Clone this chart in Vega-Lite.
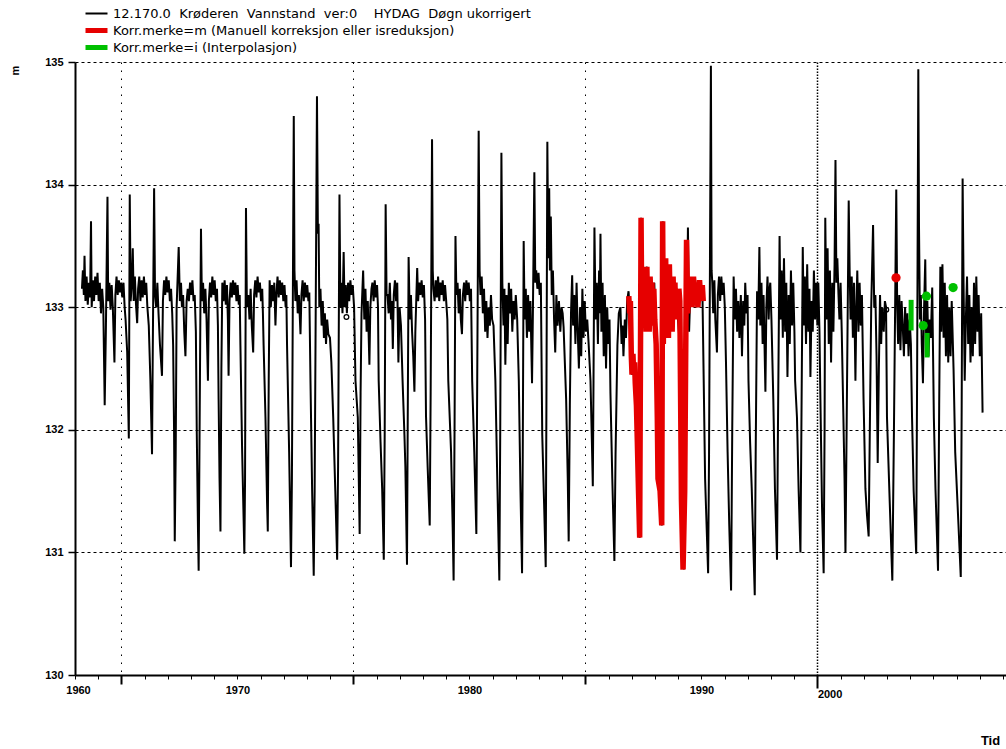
{
  "$schema": "https://vega.github.io/schema/vega-lite/v6.json",
  "width": 931,
  "height": 613,
  "autosize": {"type": "none"},
  "padding": {"left": 75, "top": 62, "right": 0, "bottom": 74},
  "background": "white",
  "config": {
    "view": {"stroke": null},
    "font": "Liberation Sans",
    "axis": {"domainColor": "#000", "tickColor": "#000", "labelColor": "#000", "titleColor": "#000", "gridColor": "#000"}
  },
  "datasets": {
    "niva": [
      {"t":1968.30,"v":133.15},{"t":1968.34,"v":133.30},{"t":1968.38,"v":133.10},{"t":1968.41,"v":133.42},{"t":1968.45,"v":133.05},{"t":1968.50,"v":133.25},{"t":1968.55,"v":133.02},{"t":1968.60,"v":133.20},{"t":1968.65,"v":133.08},{"t":1968.69,"v":133.70},{"t":1968.72,"v":133.00},{"t":1968.77,"v":133.22},{"t":1968.82,"v":133.05},{"t":1968.87,"v":133.25},{"t":1968.92,"v":133.10},{"t":1968.97,"v":133.28},
      {"t":1969.02,"v":133.05},{"t":1969.07,"v":133.20},{"t":1969.12,"v":132.95},{"t":1969.17,"v":133.15},{"t":1969.22,"v":133.00},{"t":1969.25,"v":132.60},{"t":1969.28,"v":132.20},{"t":1969.33,"v":132.80},{"t":1969.40,"v":133.90},{"t":1969.43,"v":133.05},{"t":1969.48,"v":133.20},{"t":1969.53,"v":132.98},{"t":1969.58,"v":133.18},{"t":1969.63,"v":133.00},{"t":1969.70,"v":132.55},{"t":1969.74,"v":133.10},{"t":1969.79,"v":133.25},{"t":1969.84,"v":133.10},{"t":1969.89,"v":133.22},{"t":1969.94,"v":133.12},{"t":1969.99,"v":133.20},
      {"t":1970.04,"v":133.08},{"t":1970.09,"v":133.20},{"t":1970.14,"v":133.00},{"t":1970.18,"v":132.90},{"t":1970.25,"v":132.63},{"t":1970.32,"v":131.93},{"t":1970.36,"v":133.92},{"t":1970.40,"v":133.05},{"t":1970.45,"v":133.20},{"t":1970.49,"v":133.48},{"t":1970.53,"v":133.05},{"t":1970.58,"v":133.25},{"t":1970.63,"v":133.02},{"t":1970.68,"v":132.87},{"t":1970.72,"v":133.15},{"t":1970.77,"v":133.25},{"t":1970.82,"v":133.05},{"t":1970.87,"v":133.22},{"t":1970.92,"v":133.08},{"t":1970.97,"v":133.25},
      {"t":1971.02,"v":133.10},{"t":1971.07,"v":133.20},{"t":1971.12,"v":133.00},{"t":1971.18,"v":132.85},{"t":1971.25,"v":132.40},{"t":1971.32,"v":131.80},{"t":1971.35,"v":132.60},{"t":1971.41,"v":133.97},{"t":1971.45,"v":133.10},{"t":1971.50,"v":133.00},{"t":1971.55,"v":133.20},{"t":1971.60,"v":132.95},{"t":1971.66,"v":132.70},{"t":1971.75,"v":132.44},{"t":1971.79,"v":133.05},{"t":1971.84,"v":133.22},{"t":1971.89,"v":133.10},{"t":1971.94,"v":133.25},{"t":1971.99,"v":133.12},
      {"t":1972.04,"v":133.22},{"t":1972.09,"v":133.05},{"t":1972.14,"v":133.15},{"t":1972.19,"v":132.95},{"t":1972.23,"v":132.69},{"t":1972.27,"v":132.00},{"t":1972.30,"v":131.09},{"t":1972.34,"v":131.80},{"t":1972.38,"v":133.00},{"t":1972.47,"v":133.49},{"t":1972.52,"v":133.05},{"t":1972.57,"v":133.20},{"t":1972.61,"v":133.00},{"t":1972.66,"v":133.10},{"t":1972.71,"v":132.80},{"t":1972.76,"v":132.60},{"t":1972.81,"v":133.05},{"t":1972.86,"v":133.15},{"t":1972.91,"v":133.05},{"t":1972.96,"v":133.20},
      {"t":1973.01,"v":133.10},{"t":1973.06,"v":133.22},{"t":1973.11,"v":133.05},{"t":1973.16,"v":133.10},{"t":1973.21,"v":132.80},{"t":1973.25,"v":131.96},{"t":1973.30,"v":131.20},{"t":1973.33,"v":130.85},{"t":1973.37,"v":132.00},{"t":1973.43,"v":133.64},{"t":1973.47,"v":133.05},{"t":1973.52,"v":133.20},{"t":1973.57,"v":132.95},{"t":1973.62,"v":133.15},{"t":1973.67,"v":132.90},{"t":1973.73,"v":132.40},{"t":1973.77,"v":133.05},{"t":1973.82,"v":133.20},{"t":1973.87,"v":133.08},{"t":1973.92,"v":133.25},{"t":1973.97,"v":133.10},
      {"t":1974.02,"v":133.22},{"t":1974.07,"v":133.05},{"t":1974.12,"v":133.15},{"t":1974.16,"v":132.85},{"t":1974.19,"v":132.25},{"t":1974.23,"v":131.60},{"t":1974.27,"v":131.17},{"t":1974.31,"v":132.50},{"t":1974.35,"v":133.20},{"t":1974.40,"v":133.05},{"t":1974.45,"v":133.22},{"t":1974.50,"v":133.02},{"t":1974.55,"v":133.18},{"t":1974.59,"v":132.90},{"t":1974.62,"v":132.44},{"t":1974.66,"v":133.05},{"t":1974.71,"v":133.20},{"t":1974.76,"v":133.08},{"t":1974.81,"v":133.22},{"t":1974.86,"v":133.10},{"t":1974.91,"v":133.20},{"t":1974.96,"v":133.05},
      {"t":1975.01,"v":133.18},{"t":1975.06,"v":133.02},{"t":1975.10,"v":133.10},{"t":1975.13,"v":132.69},{"t":1975.20,"v":131.87},{"t":1975.30,"v":130.99},{"t":1975.33,"v":131.60},{"t":1975.37,"v":133.81},{"t":1975.41,"v":133.00},{"t":1975.47,"v":133.10},{"t":1975.52,"v":132.90},{"t":1975.57,"v":133.15},{"t":1975.62,"v":132.85},{"t":1975.68,"v":132.63},{"t":1975.72,"v":133.10},{"t":1975.77,"v":133.22},{"t":1975.82,"v":133.08},{"t":1975.87,"v":133.25},{"t":1975.92,"v":133.12},{"t":1975.97,"v":133.20},
      {"t":1976.02,"v":133.05},{"t":1976.07,"v":133.15},{"t":1976.10,"v":132.95},{"t":1976.13,"v":132.69},{"t":1976.21,"v":132.10},{"t":1976.28,"v":131.40},{"t":1976.31,"v":131.17},{"t":1976.35,"v":132.40},{"t":1976.39,"v":133.22},{"t":1976.44,"v":133.00},{"t":1976.49,"v":133.18},{"t":1976.54,"v":133.05},{"t":1976.59,"v":133.20},{"t":1976.64,"v":132.85},{"t":1976.68,"v":133.10},{"t":1976.73,"v":133.25},{"t":1976.78,"v":133.08},{"t":1976.83,"v":133.22},{"t":1976.88,"v":133.10},{"t":1976.93,"v":133.20},{"t":1976.98,"v":133.05},
      {"t":1977.03,"v":133.18},{"t":1977.08,"v":133.00},{"t":1977.11,"v":133.10},{"t":1977.14,"v":132.69},{"t":1977.23,"v":131.82},{"t":1977.31,"v":130.88},{"t":1977.35,"v":131.60},{"t":1977.43,"v":134.56},{"t":1977.46,"v":133.30},{"t":1977.50,"v":133.05},{"t":1977.55,"v":133.22},{"t":1977.60,"v":132.95},{"t":1977.65,"v":133.10},{"t":1977.72,"v":132.78},{"t":1977.76,"v":133.10},{"t":1977.81,"v":133.22},{"t":1977.86,"v":133.05},{"t":1977.91,"v":133.20},{"t":1977.96,"v":133.08},
      {"t":1978.01,"v":133.18},{"t":1978.06,"v":133.05},{"t":1978.10,"v":133.12},{"t":1978.15,"v":132.40},{"t":1978.22,"v":131.52},{"t":1978.29,"v":130.81},{"t":1978.33,"v":131.50},{"t":1978.43,"v":134.72},{"t":1978.47,"v":133.60},{"t":1978.50,"v":133.68},{"t":1978.53,"v":133.00},{"t":1978.58,"v":133.15},{"t":1978.63,"v":132.85},{"t":1978.68,"v":133.05},{"t":1978.73,"v":132.75},{"t":1978.77,"v":132.95},{"t":1978.82,"v":132.70},{"t":1978.87,"v":132.90},{"t":1978.92,"v":132.78},{"t":1978.99,"v":132.75},
      {"t":1979.05,"v":132.55},{"t":1979.13,"v":132.10},{"t":1979.22,"v":131.50},{"t":1979.30,"v":130.94},{"t":1979.34,"v":131.70},{"t":1979.40,"v":133.92},{"t":1979.44,"v":133.00},{"t":1979.48,"v":133.20},{"t":1979.53,"v":132.95},{"t":1979.58,"v":133.45},{"t":1979.62,"v":133.00},{"t":1979.67,"v":133.18},{"t":1979.72,"v":132.95},{"t":1979.77,"v":133.20},{"t":1979.82,"v":133.05},{"t":1979.87,"v":133.22},{"t":1979.92,"v":133.10},{"t":1979.97,"v":133.18},
      {"t":1980.03,"v":133.00},{"t":1980.09,"v":132.40},{"t":1980.19,"v":132.10},{"t":1980.27,"v":131.15},{"t":1980.31,"v":132.30},{"t":1980.35,"v":132.95},{"t":1980.42,"v":133.30},{"t":1980.47,"v":132.90},{"t":1980.52,"v":133.15},{"t":1980.57,"v":132.80},{"t":1980.62,"v":133.05},{"t":1980.69,"v":132.53},{"t":1980.73,"v":133.00},{"t":1980.78,"v":133.15},{"t":1980.82,"v":133.20},{"t":1980.87,"v":133.05},{"t":1980.92,"v":133.22},{"t":1980.97,"v":133.08},
      {"t":1981.02,"v":133.18},{"t":1981.06,"v":133.00},{"t":1981.09,"v":132.40},{"t":1981.17,"v":131.90},{"t":1981.24,"v":131.52},{"t":1981.31,"v":130.94},{"t":1981.35,"v":132.00},{"t":1981.39,"v":133.84},{"t":1981.43,"v":133.10},{"t":1981.47,"v":133.10},{"t":1981.52,"v":132.95},{"t":1981.57,"v":133.20},{"t":1981.62,"v":132.90},{"t":1981.66,"v":133.05},{"t":1981.70,"v":132.66},{"t":1981.74,"v":133.10},{"t":1981.79,"v":133.22},{"t":1981.84,"v":133.05},{"t":1981.89,"v":133.20},{"t":1981.94,"v":132.55},{"t":1981.99,"v":133.00},
      {"t":1982.05,"v":132.85},{"t":1982.12,"v":132.40},{"t":1982.20,"v":131.96},{"t":1982.24,"v":131.70},{"t":1982.31,"v":130.90},{"t":1982.34,"v":132.00},{"t":1982.38,"v":133.41},{"t":1982.43,"v":132.90},{"t":1982.48,"v":133.10},{"t":1982.53,"v":132.80},{"t":1982.58,"v":132.60},{"t":1982.63,"v":132.31},{"t":1982.67,"v":132.80},{"t":1982.75,"v":133.32},{"t":1982.79,"v":133.05},{"t":1982.84,"v":133.20},{"t":1982.89,"v":133.10},{"t":1982.94,"v":133.22},{"t":1982.99,"v":133.08},
      {"t":1983.04,"v":133.18},{"t":1983.09,"v":132.90},{"t":1983.13,"v":132.11},{"t":1983.20,"v":131.70},{"t":1983.29,"v":131.22},{"t":1983.33,"v":132.30},{"t":1983.39,"v":134.37},{"t":1983.42,"v":133.30},{"t":1983.45,"v":133.15},{"t":1983.50,"v":133.05},{"t":1983.55,"v":133.22},{"t":1983.60,"v":133.08},{"t":1983.65,"v":133.25},{"t":1983.70,"v":133.05},{"t":1983.75,"v":133.20},{"t":1983.80,"v":133.10},{"t":1983.85,"v":133.22},{"t":1983.90,"v":133.05},{"t":1983.95,"v":133.18},
      {"t":1984.00,"v":133.05},{"t":1984.05,"v":132.90},{"t":1984.09,"v":132.40},{"t":1984.21,"v":131.82},{"t":1984.28,"v":131.20},{"t":1984.32,"v":130.77},{"t":1984.36,"v":132.00},{"t":1984.40,"v":133.58},{"t":1984.44,"v":133.10},{"t":1984.49,"v":133.20},{"t":1984.54,"v":132.95},{"t":1984.59,"v":133.15},{"t":1984.63,"v":132.90},{"t":1984.68,"v":132.78},{"t":1984.72,"v":133.10},{"t":1984.77,"v":133.20},{"t":1984.82,"v":133.05},{"t":1984.87,"v":133.22},{"t":1984.92,"v":133.10},{"t":1984.97,"v":133.20},
      {"t":1985.02,"v":133.05},{"t":1985.07,"v":133.15},{"t":1985.12,"v":132.40},{"t":1985.21,"v":131.82},{"t":1985.30,"v":131.15},{"t":1985.34,"v":132.50},{"t":1985.40,"v":134.44},{"t":1985.44,"v":133.30},{"t":1985.48,"v":133.10},{"t":1985.53,"v":133.25},{"t":1985.58,"v":132.95},{"t":1985.63,"v":133.15},{"t":1985.68,"v":132.80},{"t":1985.73,"v":133.05},{"t":1985.78,"v":132.75},{"t":1985.83,"v":133.00},{"t":1985.88,"v":132.85},{"t":1985.93,"v":133.10},{"t":1985.98,"v":132.90},
      {"t":1986.04,"v":132.85},{"t":1986.12,"v":132.40},{"t":1986.21,"v":131.52},{"t":1986.29,"v":130.77},{"t":1986.33,"v":132.00},{"t":1986.38,"v":134.26},{"t":1986.42,"v":133.20},{"t":1986.47,"v":132.85},{"t":1986.51,"v":133.15},{"t":1986.55,"v":132.53},{"t":1986.60,"v":133.10},{"t":1986.65,"v":132.70},{"t":1986.70,"v":133.20},{"t":1986.75,"v":132.95},{"t":1986.80,"v":133.15},{"t":1986.85,"v":132.80},{"t":1986.90,"v":133.05},{"t":1986.95,"v":132.90},
      {"t":1987.00,"v":133.10},{"t":1987.06,"v":132.90},{"t":1987.13,"v":132.40},{"t":1987.20,"v":131.52},{"t":1987.27,"v":130.83},{"t":1987.30,"v":131.80},{"t":1987.34,"v":133.54},{"t":1987.38,"v":132.90},{"t":1987.43,"v":133.15},{"t":1987.48,"v":132.75},{"t":1987.53,"v":133.10},{"t":1987.58,"v":132.80},{"t":1987.63,"v":133.05},{"t":1987.70,"v":132.38},{"t":1987.74,"v":133.00},{"t":1987.80,"v":134.10},{"t":1987.84,"v":133.20},{"t":1987.88,"v":133.30},{"t":1987.93,"v":133.15},{"t":1987.98,"v":133.28},
      {"t":1988.03,"v":133.10},{"t":1988.08,"v":133.20},{"t":1988.14,"v":131.96},{"t":1988.22,"v":131.40},{"t":1988.29,"v":130.88},{"t":1988.32,"v":132.20},{"t":1988.36,"v":134.35},{"t":1988.40,"v":133.40},{"t":1988.44,"v":133.97},{"t":1988.47,"v":133.30},{"t":1988.51,"v":133.74},{"t":1988.55,"v":133.10},{"t":1988.60,"v":133.30},{"t":1988.65,"v":132.90},{"t":1988.70,"v":132.63},{"t":1988.75,"v":133.10},{"t":1988.80,"v":132.85},{"t":1988.86,"v":133.05},{"t":1988.92,"v":132.80},{"t":1988.97,"v":133.00},
      {"t":1989.02,"v":132.95},{"t":1989.06,"v":132.84},{"t":1989.17,"v":132.25},{"t":1989.24,"v":131.60},{"t":1989.28,"v":131.09},{"t":1989.33,"v":132.20},{"t":1989.38,"v":132.95},{"t":1989.43,"v":133.26},{"t":1989.47,"v":132.85},{"t":1989.52,"v":133.10},{"t":1989.57,"v":132.70},{"t":1989.62,"v":133.20},{"t":1989.67,"v":132.80},{"t":1989.72,"v":132.50},{"t":1989.77,"v":133.00},{"t":1989.82,"v":132.60},{"t":1989.87,"v":133.15},{"t":1989.92,"v":132.75},{"t":1989.97,"v":133.05},
      {"t":1990.02,"v":132.80},{"t":1990.08,"v":132.90},{"t":1990.14,"v":132.70},{"t":1990.22,"v":132.40},{"t":1990.28,"v":131.90},{"t":1990.32,"v":131.54},{"t":1990.35,"v":132.40},{"t":1990.39,"v":133.65},{"t":1990.44,"v":132.90},{"t":1990.49,"v":133.20},{"t":1990.54,"v":132.70},{"t":1990.59,"v":133.30},{"t":1990.62,"v":132.95},{"t":1990.65,"v":133.60},{"t":1990.69,"v":132.80},{"t":1990.74,"v":133.20},{"t":1990.79,"v":132.60},{"t":1990.84,"v":133.10},{"t":1990.89,"v":132.50},{"t":1990.94,"v":133.00},{"t":1990.99,"v":132.70},
      {"t":1991.04,"v":132.90},{"t":1991.08,"v":132.30},{"t":1991.16,"v":131.60},{"t":1991.25,"v":130.93},{"t":1991.30,"v":131.80},{"t":1991.38,"v":132.69},{"t":1991.44,"v":132.95},{"t":1991.51,"v":133.00},{"t":1991.56,"v":132.70},{"t":1991.60,"v":132.85},{"t":1991.64,"v":132.60},{"t":1991.70,"v":132.90},{"t":1991.75,"v":132.75},{"t":1991.80,"v":133.05},{"t":1991.86,"v":133.13},
      {"t":1991.90,"v":133.00},{"t":1991.95,"v":132.85},{"t":1992.01,"v":132.45},{"t":1992.08,"v":132.50},{"t":1992.15,"v":132.38},{"t":1992.24,"v":131.90},{"t":1992.34,"v":131.12},{"t":1992.40,"v":133.73},{"t":1992.45,"v":132.95},{"t":1992.54,"v":133.25},{"t":1992.65,"v":133.33},{"t":1992.71,"v":132.98},{"t":1992.80,"v":133.20},{"t":1992.88,"v":132.90},{"t":1992.97,"v":133.20},
      {"t":1993.05,"v":132.70},{"t":1993.13,"v":131.60},{"t":1993.22,"v":131.50},{"t":1993.29,"v":131.22},{"t":1993.33,"v":133.70},{"t":1993.39,"v":132.75},{"t":1993.47,"v":133.35},{"t":1993.56,"v":132.80},{"t":1993.65,"v":133.30},{"t":1993.73,"v":132.85},{"t":1993.82,"v":133.20},{"t":1993.90,"v":133.10},{"t":1993.99,"v":132.90},
      {"t":1994.07,"v":132.70},{"t":1994.14,"v":132.30},{"t":1994.24,"v":130.86},{"t":1994.30,"v":131.50},{"t":1994.42,"v":133.65},{"t":1994.47,"v":132.80},{"t":1994.52,"v":133.10},{"t":1994.59,"v":133.05},{"t":1994.72,"v":133.20},{"t":1994.85,"v":133.00},{"t":1994.98,"v":133.18},
      {"t":1995.05,"v":133.05},{"t":1995.10,"v":132.40},{"t":1995.16,"v":131.60},{"t":1995.29,"v":130.83},{"t":1995.33,"v":131.80},{"t":1995.41,"v":134.97},{"t":1995.44,"v":133.30},{"t":1995.47,"v":133.20},{"t":1995.51,"v":132.95},{"t":1995.56,"v":133.22},{"t":1995.60,"v":132.90},{"t":1995.67,"v":132.63},{"t":1995.71,"v":133.10},{"t":1995.76,"v":133.25},{"t":1995.81,"v":133.05},{"t":1995.86,"v":133.25},{"t":1995.91,"v":133.10},{"t":1995.96,"v":133.20},
      {"t":1996.01,"v":133.00},{"t":1996.06,"v":132.55},{"t":1996.13,"v":131.82},{"t":1996.20,"v":131.23},{"t":1996.28,"v":130.69},{"t":1996.33,"v":132.00},{"t":1996.39,"v":133.25},{"t":1996.44,"v":132.90},{"t":1996.49,"v":133.15},{"t":1996.54,"v":132.80},{"t":1996.59,"v":133.05},{"t":1996.64,"v":132.75},{"t":1996.70,"v":133.10},{"t":1996.75,"v":132.60},{"t":1996.80,"v":133.05},{"t":1996.85,"v":132.85},{"t":1996.89,"v":133.20},{"t":1996.94,"v":132.95},{"t":1996.99,"v":133.10},
      {"t":1997.03,"v":132.40},{"t":1997.10,"v":131.90},{"t":1997.17,"v":131.52},{"t":1997.30,"v":130.65},{"t":1997.34,"v":131.80},{"t":1997.40,"v":133.13},{"t":1997.45,"v":132.90},{"t":1997.50,"v":133.49},{"t":1997.54,"v":132.85},{"t":1997.59,"v":133.20},{"t":1997.64,"v":132.70},{"t":1997.68,"v":133.10},{"t":1997.76,"v":132.31},{"t":1997.80,"v":133.00},{"t":1997.85,"v":133.25},{"t":1997.90,"v":132.90},{"t":1997.94,"v":133.15},{"t":1997.97,"v":133.20},
      {"t":1998.02,"v":132.90},{"t":1998.10,"v":132.25},{"t":1998.17,"v":131.52},{"t":1998.26,"v":130.94},{"t":1998.30,"v":132.00},{"t":1998.37,"v":133.58},{"t":1998.41,"v":132.90},{"t":1998.46,"v":133.30},{"t":1998.51,"v":132.75},{"t":1998.56,"v":133.40},{"t":1998.61,"v":132.80},{"t":1998.66,"v":133.20},{"t":1998.71,"v":132.43},{"t":1998.76,"v":133.10},{"t":1998.81,"v":132.70},{"t":1998.86,"v":133.30},{"t":1998.91,"v":132.85},{"t":1998.96,"v":133.20},
      {"t":1999.01,"v":132.80},{"t":1999.04,"v":132.40},{"t":1999.12,"v":132.10},{"t":1999.19,"v":131.52},{"t":1999.27,"v":131.00},{"t":1999.31,"v":132.00},{"t":1999.37,"v":133.49},{"t":1999.41,"v":132.85},{"t":1999.46,"v":133.25},{"t":1999.51,"v":132.70},{"t":1999.56,"v":133.35},{"t":1999.61,"v":132.80},{"t":1999.66,"v":133.15},{"t":1999.70,"v":132.43},{"t":1999.75,"v":133.05},{"t":1999.80,"v":132.80},{"t":1999.85,"v":133.30},{"t":1999.90,"v":132.90},{"t":1999.95,"v":133.20},
      {"t":2000.00,"v":132.85},{"t":2000.04,"v":133.20},{"t":2000.09,"v":132.80},{"t":2000.13,"v":132.25},{"t":2000.20,"v":131.37},{"t":2000.27,"v":130.83},{"t":2000.31,"v":132.00},{"t":2000.34,"v":133.73},{"t":2000.39,"v":132.90},{"t":2000.44,"v":133.48},{"t":2000.49,"v":132.70},{"t":2000.54,"v":133.30},{"t":2000.59,"v":132.55},{"t":2000.64,"v":133.20},{"t":2000.69,"v":132.80},{"t":2000.74,"v":133.35},{"t":2000.78,"v":134.20},{"t":2000.82,"v":133.20},{"t":2000.86,"v":133.40},{"t":2000.91,"v":133.10},{"t":2000.95,"v":132.90},
      {"t":2001.00,"v":133.20},{"t":2001.05,"v":132.80},{"t":2001.12,"v":132.11},{"t":2001.17,"v":131.60},{"t":2001.21,"v":131.00},{"t":2001.26,"v":132.00},{"t":2001.35,"v":133.87},{"t":2001.39,"v":133.30},{"t":2001.43,"v":132.90},{"t":2001.48,"v":133.25},{"t":2001.53,"v":132.75},{"t":2001.58,"v":133.20},{"t":2001.64,"v":132.40},{"t":2001.68,"v":133.00},{"t":2001.72,"v":133.30},{"t":2001.77,"v":132.80},{"t":2001.82,"v":133.20},{"t":2001.87,"v":132.85},{"t":2001.92,"v":133.10},{"t":2001.99,"v":132.25},
      {"t":2002.07,"v":131.52},{"t":2002.14,"v":131.30},{"t":2002.21,"v":131.13},{"t":2002.26,"v":132.00},{"t":2002.32,"v":133.00},{"t":2002.40,"v":133.67},{"t":2002.45,"v":133.00},{"t":2002.50,"v":133.10},{"t":2002.55,"v":132.60},{"t":2002.60,"v":131.73},{"t":2002.65,"v":132.49},{"t":2002.70,"v":133.10},{"t":2002.75,"v":132.70},{"t":2002.79,"v":133.00},{"t":2002.86,"v":132.80},{"t":2002.91,"v":133.05},{"t":2002.96,"v":133.00},
      {"t":2003.00,"v":132.10},{"t":2003.12,"v":131.40},{"t":2003.23,"v":130.77},{"t":2003.30,"v":132.00},{"t":2003.40,"v":133.96},{"t":2003.44,"v":133.00},{"t":2003.48,"v":132.70},{"t":2003.53,"v":133.10},{"t":2003.58,"v":132.65},{"t":2003.63,"v":133.05},{"t":2003.68,"v":132.84},{"t":2003.73,"v":132.60},{"t":2003.78,"v":133.00},{"t":2003.83,"v":132.70},{"t":2003.88,"v":132.95},{"t":2003.93,"v":132.60},{"t":2003.98,"v":132.90},
      {"t":2004.03,"v":132.70},{"t":2004.08,"v":132.10},{"t":2004.15,"v":131.50},{"t":2004.26,"v":130.99},{"t":2004.30,"v":132.50},{"t":2004.35,"v":134.94},{"t":2004.38,"v":133.65},{"t":2004.42,"v":132.90},{"t":2004.46,"v":133.10},{"t":2004.50,"v":132.70},{"t":2004.55,"v":132.38},{"t":2004.60,"v":133.00},{"t":2004.65,"v":133.39},{"t":2004.69,"v":132.70},{"t":2004.74,"v":133.05},{"t":2004.79,"v":132.60},{"t":2004.84,"v":132.90},{"t":2004.89,"v":132.75},{"t":2004.95,"v":133.16},
      {"t":2005.02,"v":132.10},{"t":2005.09,"v":131.52},{"t":2005.20,"v":130.85},{"t":2005.25,"v":132.20},{"t":2005.30,"v":133.33},{"t":2005.34,"v":132.80},{"t":2005.39,"v":133.35},{"t":2005.44,"v":132.75},{"t":2005.49,"v":133.20},{"t":2005.54,"v":132.60},{"t":2005.59,"v":133.10},{"t":2005.64,"v":132.55},{"t":2005.69,"v":133.00},{"t":2005.74,"v":132.60},{"t":2005.79,"v":133.05},{"t":2005.84,"v":132.70},{"t":2005.87,"v":132.49},{"t":2005.94,"v":131.82},
      {"t":2006.08,"v":131.23},{"t":2006.18,"v":130.80},{"t":2006.22,"v":132.20},{"t":2006.26,"v":134.05},{"t":2006.30,"v":133.20},{"t":2006.35,"v":132.40},{"t":2006.40,"v":132.90},{"t":2006.45,"v":133.25},{"t":2006.50,"v":132.70},{"t":2006.55,"v":133.10},{"t":2006.60,"v":132.55},{"t":2006.65,"v":133.00},{"t":2006.70,"v":132.60},{"t":2006.75,"v":133.20},{"t":2006.80,"v":132.70},{"t":2006.85,"v":133.25},{"t":2006.90,"v":132.80},{"t":2006.95,"v":133.10},
      {"t":2007.00,"v":132.60},{"t":2007.06,"v":132.95},{"t":2007.12,"v":132.14}
    ],
    "manuell": [
      {"t":1991.87,"v":133.09},{"t":1991.91,"v":132.95},{"t":1991.94,"v":133.05},{"t":1991.98,"v":132.60},{"t":1992.01,"v":132.45},{"t":1992.05,"v":132.62},{"t":1992.08,"v":132.45},{"t":1992.12,"v":132.55},{"t":1992.15,"v":132.38},{"t":1992.20,"v":132.20},{"t":1992.24,"v":131.90},{"t":1992.29,"v":131.50},{"t":1992.34,"v":131.12},{"t":1992.40,"v":133.73},
      {"t":1992.43,"v":132.90},{"t":1992.46,"v":133.30},{"t":1992.49,"v":132.85},{"t":1992.52,"v":133.25},{"t":1992.55,"v":132.90},{"t":1992.58,"v":133.30},{"t":1992.62,"v":132.80},{"t":1992.65,"v":133.33},{"t":1992.68,"v":132.95},{"t":1992.71,"v":133.20},{"t":1992.75,"v":132.80},{"t":1992.79,"v":133.25},{"t":1992.83,"v":132.95},{"t":1992.87,"v":133.20},{"t":1992.91,"v":132.85},{"t":1992.95,"v":133.15},{"t":1992.99,"v":132.90},
      {"t":1993.05,"v":132.70},{"t":1993.10,"v":132.10},{"t":1993.13,"v":131.60},{"t":1993.22,"v":131.50},{"t":1993.29,"v":131.22},{"t":1993.33,"v":133.70},
      {"t":1993.36,"v":132.70},{"t":1993.39,"v":133.35},{"t":1993.42,"v":132.75},{"t":1993.46,"v":133.40},{"t":1993.50,"v":132.80},{"t":1993.54,"v":133.30},{"t":1993.58,"v":132.75},{"t":1993.62,"v":133.35},{"t":1993.66,"v":132.90},{"t":1993.70,"v":133.25},{"t":1993.74,"v":132.80},{"t":1993.78,"v":133.25},{"t":1993.82,"v":132.95},{"t":1993.86,"v":133.20},{"t":1993.90,"v":132.90},{"t":1993.95,"v":133.15},{"t":1993.99,"v":133.00},
      {"t":1994.03,"v":133.15},{"t":1994.07,"v":133.05},{"t":1994.14,"v":131.43},{"t":1994.21,"v":130.86},{"t":1994.28,"v":131.50},{"t":1994.36,"v":133.55},
      {"t":1994.41,"v":132.95},{"t":1994.45,"v":133.20},{"t":1994.50,"v":133.00},{"t":1994.55,"v":133.25},{"t":1994.60,"v":133.00},{"t":1994.66,"v":133.25},{"t":1994.72,"v":133.05},{"t":1994.78,"v":133.20},{"t":1994.85,"v":133.00},{"t":1994.92,"v":133.22},{"t":1994.98,"v":133.05},{"t":1995.04,"v":133.18},{"t":1995.08,"v":133.05}
    ],
    "interpolert": [
      {"g":1,"t":2004.04,"v":133.06},{"g":1,"t":2004.04,"v":132.81},
      {"g":2,"t":2004.73,"v":132.79},{"g":2,"t":2004.73,"v":132.59}
    ],
    "punkt": [
      {"k":"m","t":2003.39,"v":133.24},
      {"k":"i","t":2004.70,"v":133.09},
      {"k":"i","t":2004.56,"v":132.85},
      {"k":"i","t":2005.85,"v":133.16}
    ],
    "merke": [
      {"t":1979.70,"v":132.92},
      {"t":2002.97,"v":132.98}
    ]
  },
  "encoding": {
    "x": {
      "field": "t",
      "type": "quantitative",
      "scale": {"domain": [1968.0, 2008.13], "nice": false, "zero": false},
      "axis": {
        "values": [1968,1969,1970,1971,1972,1973,1974,1975,1976,1977,1978,1979,1980,1981,1982,1983,1984,1985,1986,1987,1988,1989,1990,1991,1992,1993,1994,1995,1996,1997,1998,1999,2000,2001,2002,2003,2004,2005,2006,2007,2008],
        "labelExpr": "datum.value === 1968 ? '1960' : datum.value === 1975 ? '1970' : datum.value === 1985 ? '1980' : datum.value === 1995 ? '1990' : datum.value === 2000 ? '2000' : ''",
        "title": "Tid",
        "titleX": 915,
        "titleY": 65,
        "titleAlign": "center",
        "titleBaseline": "middle",
        "titleFontSize": 13,
        "titleFontWeight": "bold",
        "labelFontSize": 11,
        "labelFontWeight": "bold",
        "labelFlush": false,
        "labelOverlap": false,
        "labelBound": false,
        "labelAlign": {"condition": {"test": "datum.value === 2000", "value": "left"}, "value": "center"},
        "labelPadding": {"condition": {"test": "datum.value === 2000", "value": 0}, "value": 5},
        "labelOffset": {"condition": {"test": "datum.value === 1968", "value": 3}, "value": 0},
        "tickSize": {"condition": [{"test": "datum.value === 2000", "value": 13}, {"test": "datum.value % 10 === 0", "value": 9}], "value": 4},
        "tickWidth": {"condition": {"test": "datum.value % 10 === 0", "value": 2}, "value": 1},
        "domainWidth": 2,
        "grid": true,
        "gridOpacity": {"condition": {"test": "datum.value % 10 === 0 && datum.value > 1968", "value": 1}, "value": 0},
        "gridDash": {"condition": {"test": "datum.value === 2000", "value": [1.5, 1.5]}, "value": [1.5, 6.5]},
        "gridWidth": {"condition": {"test": "datum.value === 2000", "value": 1.5}, "value": 1}
      }
    },
    "y": {
      "field": "v",
      "type": "quantitative",
      "scale": {"domain": [130, 135], "nice": false, "zero": false},
      "axis": {
        "values": [130, 131, 132, 133, 134, 135],
        "title": "m",
        "titleX": -60,
        "titleY": 8,
        "titleAlign": "center",
        "titleBaseline": "middle",
        "titleFontSize": 11,
        "titleFontWeight": "bold",
        "labelFontSize": 11,
        "labelFontWeight": "bold",
        "labelPadding": 5,
        "tickSize": 7,
        "tickWidth": 1.5,
        "domainWidth": 2,
        "grid": true,
        "gridDash": [3, 3],
        "gridOpacity": {"condition": {"test": "datum.value === 130", "value": 0}, "value": 1}
      }
    }
  },
  "layer": [
    {
      "data": {"name": "niva"},
      "mark": {"type": "line", "strokeWidth": 2},
      "encoding": {
        "color": {
          "datum": "12.170.0\u00a0 Krøderen\u00a0 Vannstand\u00a0 ver:0\u00a0\u00a0\u00a0 HYDAG\u00a0 Døgn ukorrigert",
          "type": "nominal",
          "scale": {
            "domain": [
              "12.170.0\u00a0 Krøderen\u00a0 Vannstand\u00a0 ver:0\u00a0\u00a0\u00a0 HYDAG\u00a0 Døgn ukorrigert",
              "\u00a0Korr.merke=m (Manuell korreksjon eller isreduksjon)",
              "\u00a0Korr.merke=i (Interpolasjon)"
            ],
            "range": ["#000000", "#e60000", "#00c000"]
          },
          "legend": {
            "orient": "none",
            "legendX": 15,
            "legendY": -55,
            "title": null,
            "padding": 0,
            "symbolType": "stroke",
            "symbolSize": 484,
            "labelFont": "DejaVu Sans",
            "labelFontSize": 13,
            "labelColor": "#000",
            "labelLimit": 0,
            "labelOffset": 10,
            "rowPadding": -5,
            "gridAlign": "all",
            "encode": {"symbols": {"update": {"strokeWidth": {"signal": "datum.index === 0 ? 2 : 5"}}}}
          }
        }
      }
    },
    {
      "data": {"name": "manuell"},
      "mark": {"type": "line", "strokeWidth": 5.5},
      "encoding": {
        "color": {"datum": "\u00a0Korr.merke=m (Manuell korreksjon eller isreduksjon)", "type": "nominal"}
      }
    },
    {
      "data": {"name": "interpolert"},
      "mark": {"type": "line", "strokeWidth": 5},
      "encoding": {
        "detail": {"field": "g", "type": "nominal"},
        "color": {"datum": "\u00a0Korr.merke=i (Interpolasjon)", "type": "nominal"}
      }
    },
    {
      "data": {"name": "punkt"},
      "transform": [{"filter": "datum.k === 'm'"}],
      "mark": {"type": "point", "shape": "circle", "filled": true, "size": 85, "color": "#e60000", "opacity": 1}
    },
    {
      "data": {"name": "punkt"},
      "transform": [{"filter": "datum.k === 'i'"}],
      "mark": {"type": "point", "shape": "circle", "filled": true, "size": 85, "color": "#00c000", "opacity": 1}
    },
    {
      "data": {"name": "merke"},
      "mark": {"type": "point", "shape": "circle", "filled": false, "size": 22, "stroke": "#000", "strokeWidth": 1.3, "opacity": 1}
    },
    {
      "mark": {"type": "point", "shape": "M0,0 L0,-1 M-0.45,-0.25 L0,-1 L0.45,-0.25", "filled": false, "size": 256, "stroke": "#000", "strokeWidth": 1.5, "opacity": 1},
      "encoding": {
        "x": {"datum": 1968.0, "type": "quantitative"},
        "y": {"datum": 135, "type": "quantitative"}
      }
    }
  ]
}
